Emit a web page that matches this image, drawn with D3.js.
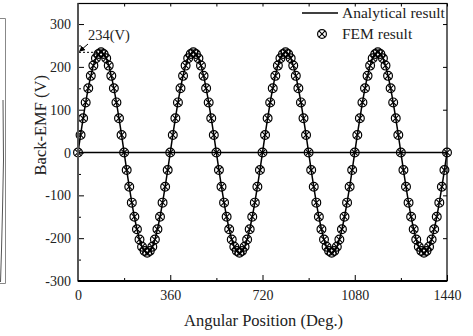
<!DOCTYPE html>
<html>
<head>
<meta charset="utf-8">
<script src="https://cdn.jsdelivr.net/npm/d3@7"></script>
<style>
  body { margin: 0; background: #fff; }
  svg { display: block; font-family: "Liberation Serif", "Times New Roman", serif; }
</style>
</head>
<body>
<svg id="chart" width="473" height="336"></svg>
<script>
// angular position in degrees, FEM sample every 10 deg
const angles = d3.range(0, 1441, 10)

// back-EMF (V), peak 234 V
const femEmf = [
  0, 41, 80, 117, 150, 179, 203, 220, 230, 234, 230, 220, 203, 179, 150, 117, 80, 41,
  0, -41, -80, -117, -150, -179, -203, -220, -230, -234, -230, -220, -203, -179, -150, -117, -80, -41,
  0, 41, 80, 117, 150, 179, 203, 220, 230, 234, 230, 220, 203, 179, 150, 117, 80, 41,
  0, -41, -80, -117, -150, -179, -203, -220, -230, -234, -230, -220, -203, -179, -150, -117, -80, -41,
  0, 41, 80, 117, 150, 179, 203, 220, 230, 234, 230, 220, 203, 179, 150, 117, 80, 41,
  0, -41, -80, -117, -150, -179, -203, -220, -230, -234, -230, -220, -203, -179, -150, -117, -80, -41,
  0, 41, 80, 117, 150, 179, 203, 220, 230, 234, 230, 220, 203, 179, 150, 117, 80, 41,
  0, -41, -80, -117, -150, -179, -203, -220, -230, -234, -230, -220, -203, -179, -150, -117, -80, -41,
  0
]
const analyticalEmf = femEmf.slice()

const xTicks = [0, 360, 720, 1080, 1440]
const xMinor = [180, 540, 900, 1260]
const yTicks = [-300, -200, -100, 0, 100, 200, 300]
const yMinor = [-250, -150, -50, 50, 150, 250]
const legendLabels = ['Analytical result', 'FEM result']

const svg = d3.select('#chart')
const plotL = 78, plotR = 447, plotT = 3.5, plotB = 281

const x = d3.scaleLinear().domain([0, 1440]).range([plotL, plotR])
const y = d3.scaleLinear().domain([-300, 348]).range([plotB, plotT])

// neighbouring figure edge on the far left
svg.append('path')
  .attr('d', 'M0,18.5H5.5V283.5H0')
  .attr('fill', 'none').attr('stroke', '#888').attr('stroke-width', 1)
svg.append('path')
  .attr('d', 'M3,100L3.5,160L2.5,210L1.5,250L0.5,282')
  .attr('fill', 'none').attr('stroke', '#555').attr('stroke-width', 1)

// zero line
svg.append('line')
  .attr('x1', plotL).attr('x2', plotR)
  .attr('y1', y(0)).attr('y2', y(0))
  .attr('stroke', '#000').attr('stroke-width', 1.5)

// analytical curve
const line = d3.line()
  .x((d, i) => x(angles[i]))
  .y(d => y(d))
  .curve(d3.curveNatural)

svg.append('path')
  .datum(analyticalEmf)
  .attr('d', line)
  .attr('fill', 'none')
  .attr('stroke', '#000')
  .attr('stroke-width', 1.5)

// FEM markers: circle with cross
function marker(g) {
  const r = 4.4, k = r * 0.7
  g.append('circle').attr('r', r).attr('fill', 'none').attr('stroke', '#000').attr('stroke-width', 1.2)
  g.append('path').attr('d', `M${-k},${-k}L${k},${k}M${-k},${k}L${k},${-k}`)
    .attr('stroke', '#000').attr('stroke-width', 1.1)
}

svg.append('g').selectAll('g')
  .data(femEmf)
  .join('g')
  .attr('transform', (d, i) => `translate(${x(angles[i])},${y(d)})`)
  .each(function () { marker(d3.select(this)) })

// axes frame
const fmt = d => String(d)
const axes = svg.append('g')
axes.append('g')
  .attr('transform', `translate(0,${plotB})`)
  .call(d3.axisBottom(x).tickValues(xTicks).tickSizeInner(-6).tickSizeOuter(0).tickPadding(9).tickFormat(fmt))
axes.append('g')
  .attr('transform', `translate(0,${plotB})`)
  .call(d3.axisBottom(x).tickValues(xMinor).tickSizeInner(-3).tickSizeOuter(0).tickFormat(''))
axes.append('g')
  .attr('transform', `translate(${plotL},0)`)
  .call(d3.axisLeft(y).tickValues(yTicks).tickSizeInner(-6).tickSizeOuter(0).tickPadding(7).tickFormat(fmt))
axes.append('g')
  .attr('transform', `translate(${plotL},0)`)
  .call(d3.axisLeft(y).tickValues(yMinor).tickSizeInner(-3).tickSizeOuter(0).tickFormat(''))
axes.append('g')
  .attr('transform', `translate(${plotR},0)`)
  .call(d3.axisRight(y).tickValues(yTicks).tickSizeInner(-4).tickSizeOuter(0).tickFormat(''))
axes.append('g')
  .attr('transform', `translate(0,${plotT})`)
  .call(d3.axisTop(x).tickValues(xMinor.concat(xTicks)).tickSizeInner(-3).tickSizeOuter(0).tickFormat(''))

axes.selectAll('.domain').remove()
axes.selectAll('line').attr('stroke', '#000')
axes.selectAll('text')
  .attr('font-family', '"Liberation Serif", serif')
  .attr('font-size', 14)
  .attr('fill', '#222')

svg.append('rect')
  .attr('x', plotL).attr('y', plotT)
  .attr('width', plotR - plotL).attr('height', plotB - plotT)
  .attr('fill', 'none').attr('stroke', '#000').attr('stroke-width', 1.2)
svg.append('line')
  .attr('x1', plotL).attr('x2', plotL).attr('y1', plotT).attr('y2', plotB)
  .attr('stroke', '#555').attr('stroke-width', 2)
svg.append('line')
  .attr('x1', plotL).attr('x2', plotR).attr('y1', plotB).attr('y2', plotB)
  .attr('stroke', '#000').attr('stroke-width', 2)

// axis titles
svg.append('text')
  .attr('x', (plotL + plotR) / 2 + 1).attr('y', 326)
  .attr('text-anchor', 'middle')
  .attr('font-size', 16.5).attr('fill', '#222')
  .text('Angular Position (Deg.)')
svg.append('text')
  .attr('transform', `translate(46,${(plotT + plotB) / 2 - 17}) rotate(-90)`)
  .attr('text-anchor', 'middle')
  .attr('font-size', 16.5).attr('fill', '#222')
  .text('Back-EMF (V)')

// peak annotation
svg.append('text')
  .attr('x', 88).attr('y', 40)
  .attr('font-size', 14.5).attr('fill', '#222')
  .text('234(V)')
svg.append('line')
  .attr('x1', plotL + 1).attr('x2', x(80))
  .attr('y1', y(234)).attr('y2', y(234))
  .attr('stroke', '#000').attr('stroke-dasharray', '2,2').attr('stroke-width', 1)
svg.append('defs').append('marker')
  .attr('id', 'arrow').attr('viewBox', '0 0 10 10')
  .attr('refX', 9).attr('refY', 5)
  .attr('markerWidth', 6).attr('markerHeight', 6)
  .attr('orient', 'auto')
  .append('path').attr('d', 'M0,0L10,5L0,10z').attr('fill', '#000')
svg.append('line')
  .attr('x1', 88).attr('y1', 44)
  .attr('x2', plotL + 1.5).attr('y2', y(234) - 1)
  .attr('stroke', '#000').attr('stroke-width', 1)
  .attr('marker-end', 'url(#arrow)')

// legend
const legend = svg.append('g')
legend.append('line')
  .attr('x1', 302).attr('x2', 338).attr('y1', 13).attr('y2', 13)
  .attr('stroke', '#000').attr('stroke-width', 1.5)
const lm = legend.append('g').attr('transform', 'translate(322,34)')
marker(lm)
legend.selectAll('text')
  .data(legendLabels)
  .join('text')
  .attr('x', 342)
  .attr('y', (d, i) => 18 + i * 21)
  .attr('font-size', 15.5).attr('fill', '#222')
  .text(d => d)
</script>
</body>
</html>
